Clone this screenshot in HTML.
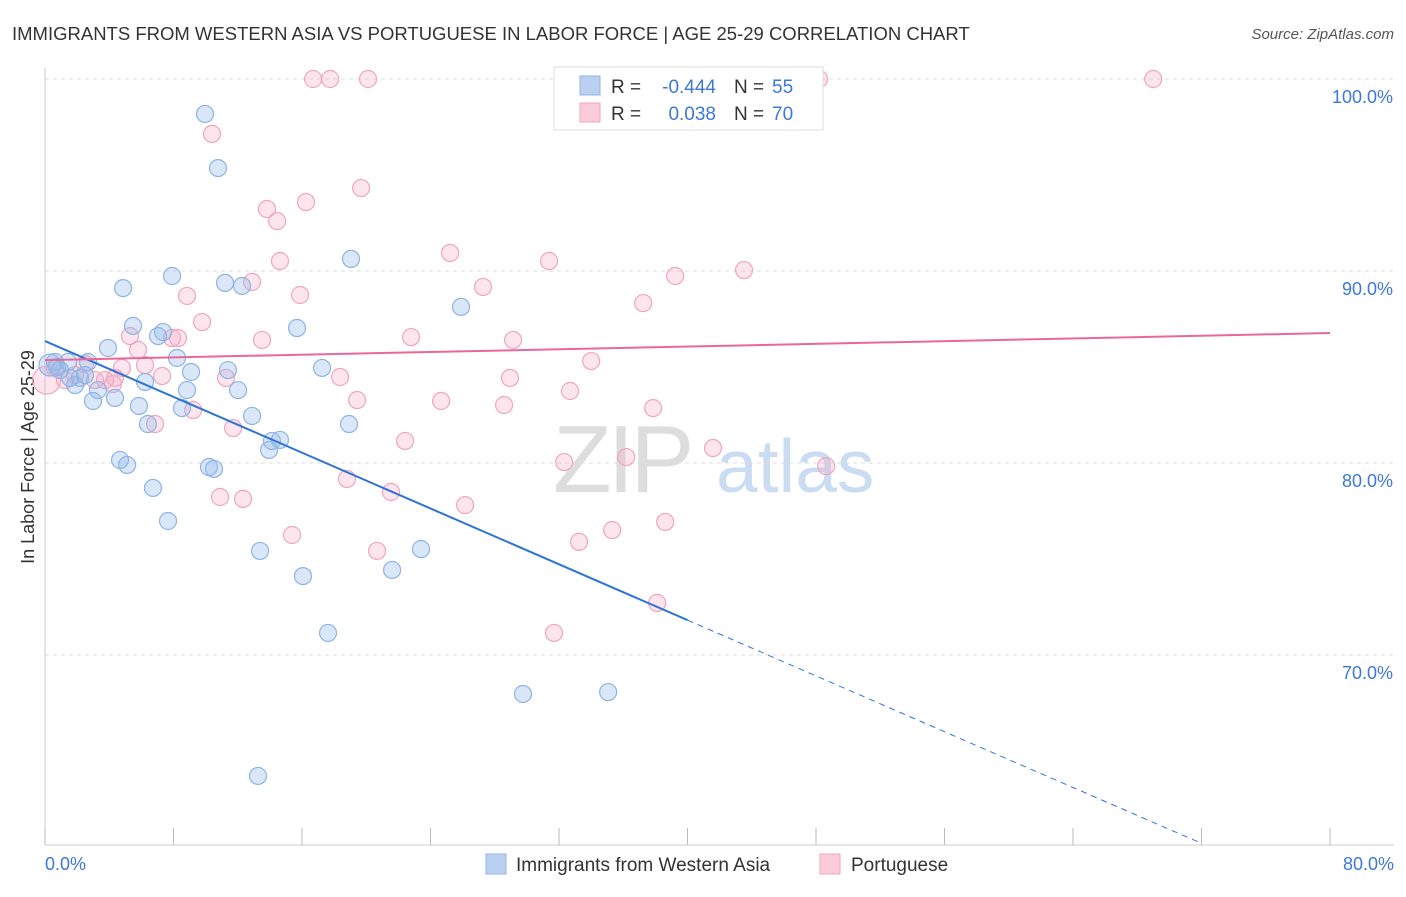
<!DOCTYPE html>
<html><head><meta charset="utf-8"><style>
body{margin:0;background:#fff;font-family:"Liberation Sans",sans-serif}
svg text{font-family:"Liberation Sans",sans-serif}
</style></head><body>
<svg id="chart" width="1406" height="892" viewBox="0 0 1406 892">
<text x="12" y="40" font-size="18.5" fill="#333">IMMIGRANTS FROM WESTERN ASIA VS PORTUGUESE IN LABOR FORCE | AGE 25-29 CORRELATION CHART</text>
<text x="1394" y="39" font-size="15" fill="#555" text-anchor="end" font-style="italic">Source: ZipAtlas.com</text>
<text transform="translate(34,457) rotate(-90)" font-size="18" fill="#333" text-anchor="middle">In Labor Force | Age 25-29</text>
<g><text x="553" y="492" font-size="96" fill="#ddd" font-family="Liberation Serif" letter-spacing="-4">ZIP</text><text x="716" y="492" font-size="75" fill="#c9dcf2">atlas</text></g>
<g id="grid"></g><g id="marks"></g>
<g>
<rect x="554" y="67" width="269" height="63" fill="#fff" stroke="#ddd"/>
<rect x="580" y="76" width="20" height="19" fill="#b9d0f0" stroke="#8fb4e3"/>
<text x="611" y="93" font-size="19" fill="#333">R =</text>
<text x="716" y="93" font-size="19" fill="#3b78d8" text-anchor="end">-0.444</text>
<text x="734" y="93" font-size="19" fill="#333">N =</text>
<text x="772" y="93" font-size="19" fill="#3b78d8">55</text>
<rect x="580" y="103" width="20" height="19" fill="#fbcbda" stroke="#f0a5bf"/>
<text x="611" y="120" font-size="19" fill="#333">R =</text>
<text x="716" y="120" font-size="19" fill="#3b78d8" text-anchor="end">0.038</text>
<text x="734" y="120" font-size="19" fill="#333">N =</text>
<text x="772" y="120" font-size="19" fill="#3b78d8">70</text>
</g>
<g>
<rect x="486" y="854" width="20" height="20" fill="#b9d0f0" stroke="#8fb4e3"/>
<text x="516" y="871" font-size="19" fill="#333">Immigrants from Western Asia</text>
<rect x="820" y="854" width="20" height="20" fill="#fbcbda" stroke="#f0a5bf"/>
<text x="851" y="871" font-size="19" fill="#333">Portuguese</text>
</g>
</svg>
<script>
const xTicks=[0,8,16,24,32,40,48,56,64,72,80];
const yTicks=[70,80,90,100];
const blueX=[0.62,0.75,1.43,1.87,2.18,2.68,2.99,3.30,3.92,4.36,4.86,5.11,5.48,5.85,6.23,6.41,6.72,7.04,7.35,7.66,7.91,8.22,8.53,8.84,9.09,9.96,10.21,10.52,10.77,11.21,11.39,12.02,12.27,12.89,13.39,13.95,14.13,14.63,15.69,16.06,17.25,17.62,18.93,19.05,21.61,23.41,25.9,29.76,35.06,13.26,1.56,2.49,0.93,4.67,0.31];
const blueY=[85.26,85.0,85.26,84.06,84.43,85.26,83.23,83.8,85.99,83.39,89.11,79.9,87.14,82.97,84.22,82.03,78.7,86.61,86.82,76.98,89.74,85.47,82.86,83.8,84.74,98.18,79.79,79.69,95.36,89.38,84.84,83.8,89.22,82.45,75.42,80.68,81.15,81.2,87.03,74.11,84.95,71.15,82.03,90.63,74.43,75.52,88.13,67.97,68.07,63.7,84.43,84.58,84.84,80.16,85.1];
const pinkX=[0.1,0.62,1.25,1.87,2.49,3.11,3.74,4.36,4.79,5.29,5.79,6.23,6.85,7.29,7.91,8.28,8.84,9.22,9.78,10.4,10.9,11.27,11.71,12.33,12.89,13.51,13.82,14.45,14.63,15.38,15.88,16.25,16.69,17.75,18.37,18.8,19.43,19.68,20.11,20.67,21.54,22.42,22.79,24.66,25.22,26.15,27.27,28.58,28.95,29.14,31.38,31.69,32.32,32.69,33.25,34.0,35.31,36.18,37.24,37.86,38.11,38.61,39.23,41.59,43.52,48.19,48.63,68.99,4.23];
const pinkY=[84.32,84.95,84.32,84.58,85.16,84.32,84.32,84.43,84.95,86.61,85.89,85.1,82.03,84.53,86.51,86.51,88.7,82.76,87.34,97.14,78.23,84.43,81.82,78.13,89.43,86.41,93.23,92.6,90.52,76.25,88.75,93.59,100,100,84.48,79.17,83.28,94.32,100,75.42,78.49,81.15,86.56,83.23,90.94,77.81,89.17,83.02,84.43,86.41,90.52,71.15,80.05,83.75,75.89,85.31,76.51,80.31,88.33,82.86,72.71,76.93,89.74,80.78,90.05,100,79.84,100,84.11];
const blueFit=[86.35,-0.3633];
const pinkFit=[85.36,0.0176];
const X=v=>45+v*1285/80, Y=v=>79+(100-v)*19.2;
const NS='http://www.w3.org/2000/svg';
function mk(p,t,a){const e=document.createElementNS(NS,t);for(const k in a)e.setAttribute(k,a[k]);p.appendChild(e);return e;}
const g=document.getElementById('grid'), m=document.getElementById('marks');
yTicks.forEach(t=>{
 const l=mk(g,'line',{x1:45,x2:1394,y1:Y(t),y2:Y(t),stroke:'#ddd','stroke-dasharray':'4,4'});
 
 
 const tx=mk(g,'text',{x:1393,y:Y(t)+24,'font-size':18,fill:'#3b78d8','text-anchor':'end'});tx.textContent=t.toFixed(1)+'%';
 
 
});
const ax=mk(g,'line',{x1:45,x2:45,y1:68,y2:845,stroke:'#ccc'});


const bx=mk(g,'line',{x1:45,x2:1394,y1:845,y2:845,stroke:'#ccc'});


xTicks.forEach(t=>{
 const l=mk(g,'line',{x1:X(t),x2:X(t),y1:828,y2:845,stroke:'#bbb'});
 
 
});
[[0,'start',45],[80,'end',1394]].forEach(([t,a,px])=>{
 const tx=mk(g,'text',{x:px,y:870,'font-size':18,fill:'#3b78d8','text-anchor':a});tx.textContent=t.toFixed(1)+'%';
 
 
});
pinkX.forEach((x,i)=>{
 const c=mk(m,'circle',{cx:X(x),cy:Y(pinkY[i]),r:i===0?14:8.5,fill:'rgba(244,170,196,0.3)',stroke:'#f0a5bf','stroke-width':1.2});
 
 
});
blueX.forEach((x,i)=>{
 const c=mk(m,'circle',{cx:X(x),cy:Y(blueY[i]),r:i===54?11:8.5,fill:'rgba(150,186,234,0.35)',stroke:'#8fb4e3','stroke-width':1.2});
 
 
});
const bl=mk(m,'line',{x1:X(0),y1:Y(blueFit[0]),x2:X(40),y2:Y(blueFit[0]+blueFit[1]*40),stroke:'#2f73d8','stroke-width':2});


const xe=71.9;
const bd=mk(m,'line',{x1:X(40),y1:Y(blueFit[0]+blueFit[1]*40),x2:X(xe),y2:Y(blueFit[0]+blueFit[1]*xe),stroke:'#2f73d8','stroke-width':1,'stroke-dasharray':'6,5'});


const pl=mk(m,'line',{x1:X(0),y1:Y(pinkFit[0]),x2:X(80),y2:Y(pinkFit[0]+pinkFit[1]*80),stroke:'#e8689a','stroke-width':2});


</script>
</body></html>
